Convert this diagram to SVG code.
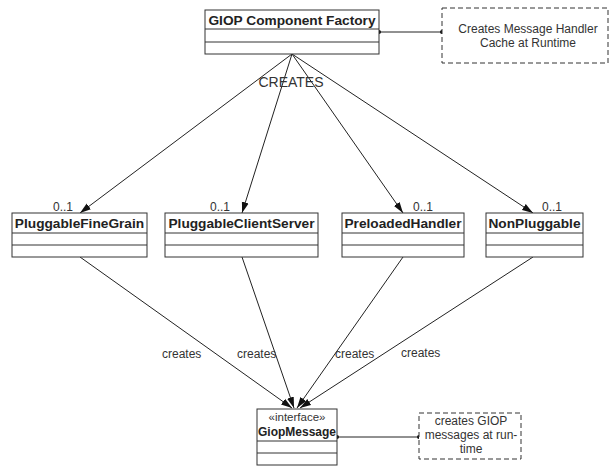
<svg xmlns="http://www.w3.org/2000/svg" width="610" height="466" viewBox="0 0 610 466">
  <style>
    .box { fill: #ffffff; stroke: #333333; stroke-width: 1; }
    .div { stroke: #333333; stroke-width: 1; }
    .note { fill: #ffffff; stroke: #333333; stroke-width: 1; stroke-dasharray: 5 3; }
    .name { font-family: "Liberation Sans", Arial, sans-serif; font-weight: bold; font-size: 13.7px; fill: #222222; text-anchor: middle; }
    .txt { font-family: "Liberation Sans", Arial, sans-serif; font-size: 12px; fill: #333333; }
    .mid { text-anchor: middle; }
    .edge { fill: none; stroke: #222222; stroke-width: 1; }
    .dot { fill: #111111; }
  </style>
  <defs>
    <marker id="arrow" markerUnits="userSpaceOnUse" markerWidth="12" markerHeight="8" refX="11" refY="4" orient="auto">
      <path d="M0,0.5 L11,4 L0,7.5 z" fill="#111111"/>
    </marker>
  </defs>

  <!-- connectors -->
  <g id="connectors">
    <path class="edge" d="M292,54 L80,213" marker-end="url(#arrow)"/>
    <path class="edge" d="M292,54 L242,213" marker-end="url(#arrow)"/>
    <path class="edge" d="M292,54 L403,213" marker-end="url(#arrow)"/>
    <path class="edge" d="M292,54 L533,213" marker-end="url(#arrow)"/>
    <path class="edge" d="M80,257 L292,408" marker-end="url(#arrow)"/>
    <path class="edge" d="M242,257 L294,408" marker-end="url(#arrow)"/>
    <path class="edge" d="M403,257 L297,408" marker-end="url(#arrow)"/>
    <path class="edge" d="M533,257 L300,408" marker-end="url(#arrow)"/>
    <!-- note anchors -->
    <line class="edge" x1="379" y1="32" x2="442" y2="32"/>
    <circle class="dot" cx="379" cy="32" r="2"/>
    <circle class="dot" cx="442" cy="32" r="2"/>
    <line class="edge" x1="337" y1="437" x2="419" y2="437"/>
    <circle class="dot" cx="337" cy="437" r="2"/>
    <circle class="dot" cx="419" cy="437" r="2"/>
    <!-- labels -->
    <text class="txt mid" x="291" y="87" style="font-size:14px">CREATES</text>
    <text class="txt" x="53" y="211">0..1</text>
    <text class="txt" x="210" y="211">0..1</text>
    <text class="txt" x="413" y="211">0..1</text>
    <text class="txt" x="542" y="211">0..1</text>
    <text class="txt" x="162" y="358">creates</text>
    <text class="txt" x="237" y="358">creates</text>
    <text class="txt" x="335" y="358">creates</text>
    <text class="txt" x="401" y="357">creates</text>
  </g>

  <g id="factory">
    <rect class="box" x="205" y="10" width="174" height="44"/>
    <line class="div" x1="205" y1="29" x2="379" y2="29"/>
    <line class="div" x1="205" y1="42" x2="379" y2="42"/>
    <text class="name" x="292" y="25">GIOP Component Factory</text>
  </g>

  <g id="factory-note">
    <rect class="note" x="442" y="8" width="166" height="55"/>
    <text class="txt mid" x="528" y="33">Creates Message Handler</text>
    <text class="txt mid" x="528" y="47">Cache at Runtime</text>
  </g>

  <g id="fine-grain">
    <rect class="box" x="12" y="213" width="135" height="44"/>
    <line class="div" x1="12" y1="233" x2="147" y2="233"/>
    <line class="div" x1="12" y1="245" x2="147" y2="245"/>
    <text class="name" x="79.5" y="228">PluggableFineGrain</text>
  </g>

  <g id="client-server">
    <rect class="box" x="165" y="213" width="153" height="44"/>
    <line class="div" x1="165" y1="233" x2="318" y2="233"/>
    <line class="div" x1="165" y1="245" x2="318" y2="245"/>
    <text class="name" x="241.5" y="228">PluggableClientServer</text>
  </g>

  <g id="preloaded">
    <rect class="box" x="342" y="213" width="122" height="44"/>
    <line class="div" x1="342" y1="233" x2="464" y2="233"/>
    <line class="div" x1="342" y1="245" x2="464" y2="245"/>
    <text class="name" x="403" y="228">PreloadedHandler</text>
  </g>

  <g id="non-pluggable">
    <rect class="box" x="486" y="213" width="97" height="44"/>
    <line class="div" x1="486" y1="233" x2="583" y2="233"/>
    <line class="div" x1="486" y1="245" x2="583" y2="245"/>
    <text class="name" x="534.5" y="228">NonPluggable</text>
  </g>

  <g id="giop-message">
    <rect class="box" x="257" y="409" width="80" height="56"/>
    <line class="div" x1="257" y1="441" x2="337" y2="441"/>
    <line class="div" x1="257" y1="453" x2="337" y2="453"/>
    <text class="txt mid" x="297" y="421" style="font-size:11.5px">«interface»</text>
    <text class="name" x="297" y="436" style="font-size:12px">GiopMessage</text>
  </g>

  <g id="message-note">
    <rect class="note" x="419" y="413" width="102" height="46"/>
    <text class="txt mid" x="471" y="425">creates GIOP</text>
    <text class="txt mid" x="471" y="439">messages at run-</text>
    <text class="txt mid" x="471" y="453">time</text>
  </g>
</svg>
